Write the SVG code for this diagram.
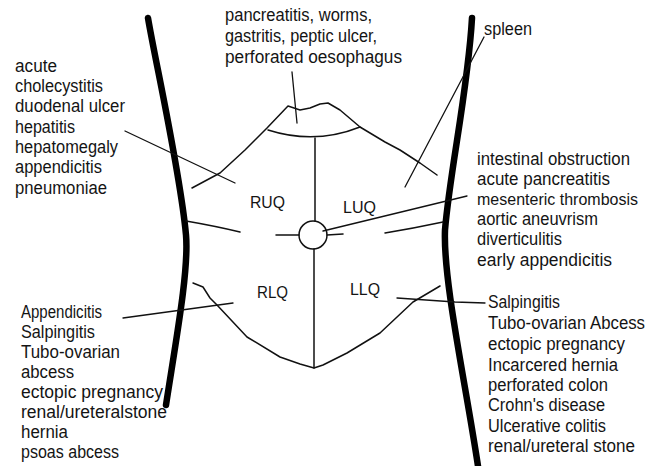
<svg xmlns="http://www.w3.org/2000/svg" width="651" height="466" viewBox="0 0 651 466">
  <style>
    .body { fill: none; stroke: #000; stroke-width: 6.5; stroke-linecap: round; stroke-linejoin: round; }
    .thin { fill: none; stroke: #111; stroke-width: 1.5; stroke-linecap: round; stroke-linejoin: round; }
    .conn { fill: none; stroke: #111; stroke-width: 1.3; stroke-linecap: round; }
    text { font-family: "Liberation Sans", Arial, sans-serif; font-size: 17.5px; fill: #141414; }
    .quad { font-size: 17px; }
    .tight { font-size: 16.5px; }
  </style>
  <rect width="651" height="466" fill="#fff"/>

  <!-- flanks of the torso -->
  <g id="torso-outline">
    <path class="body" d="M148,18 C155,60 180,170 186,235 C189,270 176,340 166,405"/>
    <path class="body" d="M472,18 C468,90 450,170 445,230 C443,280 465,380 478,466"/>
  </g>

  <!-- costal margin, xiphoid, midline, umbilicus and inguinal line -->
  <g id="abdomen">
    <path class="thin" d="M192,188 L220,173 L245,150 L267,128 L288,106 L300,110 L310,108 L320,104 L328,103 L340,110 L360,127 L385,142 L400,150 L420,163 L437,175"/>
    <path class="thin" d="M268,130 Q315,145 360,127"/>
    <path class="thin" d="M315,138 L315,221"/>
    <circle class="thin" cx="313" cy="235" r="14"/>
    <path class="thin" d="M314,249 L314,368"/>
    <path class="thin" d="M276,235 L299,235"/>
    <path class="thin" d="M327,235 L343,234"/>
    <path class="thin" d="M186,221 Q215,226 240,232"/>
    <path class="thin" d="M385,233 Q415,228 443,222"/>
    <path class="thin" d="M193,283 L203,287 L210,298 L217,305 L247,337 L280,357 L300,364 L314,368 L323,365 L347,353 L380,333 L413,302 L440,286"/>
  </g>

  <g id="quadrant-labels">
    <text class="quad" x="250" y="208" textLength="35" lengthAdjust="spacingAndGlyphs">RUQ</text>
    <text class="quad" x="343" y="213" textLength="33" lengthAdjust="spacingAndGlyphs">LUQ</text>
    <text class="quad" x="257" y="298" textLength="31" lengthAdjust="spacingAndGlyphs">RLQ</text>
    <text class="quad" x="350" y="295" textLength="30" lengthAdjust="spacingAndGlyphs">LLQ</text>
  </g>

  <!-- leader lines from each list to its region -->
  <g id="connectors">
    <line class="conn" x1="292" y1="72" x2="297" y2="123"/>
    <line class="conn" x1="125" y1="131" x2="235" y2="183"/>
    <line class="conn" x1="484" y1="37" x2="405" y2="187"/>
    <line class="conn" x1="323" y1="231" x2="467" y2="196"/>
    <line class="conn" x1="123" y1="318" x2="233" y2="303"/>
    <polyline class="conn" points="397,298 455,302 485,303"/>
  </g>

  <g id="epigastric-list">
    <text x="225" y="21" textLength="147" lengthAdjust="spacingAndGlyphs">pancreatitis, worms,</text>
    <text x="225" y="42" textLength="152" lengthAdjust="spacingAndGlyphs">gastritis, peptic ulcer,</text>
    <text x="225" y="63" textLength="177" lengthAdjust="spacingAndGlyphs">perforated oesophagus</text>
  </g>

  <g id="ruq-list">
    <text x="15" y="72" textLength="42" lengthAdjust="spacingAndGlyphs">acute</text>
    <text x="15" y="92" textLength="88" lengthAdjust="spacingAndGlyphs">cholecystitis</text>
    <text x="15" y="112" textLength="110" lengthAdjust="spacingAndGlyphs">duodenal ulcer</text>
    <text x="15" y="133" textLength="60" lengthAdjust="spacingAndGlyphs">hepatitis</text>
    <text x="15" y="153" textLength="103" lengthAdjust="spacingAndGlyphs">hepatomegaly</text>
    <text x="15" y="173" textLength="87" lengthAdjust="spacingAndGlyphs">appendicitis</text>
    <text x="15" y="194" textLength="92" lengthAdjust="spacingAndGlyphs">pneumoniae</text>
  </g>

  <g id="spleen-label">
    <text x="484" y="35" textLength="48" lengthAdjust="spacingAndGlyphs">spleen</text>
  </g>

  <g id="luq-list">
    <text x="477" y="165" textLength="153" lengthAdjust="spacingAndGlyphs">intestinal obstruction</text>
    <text x="477" y="185" textLength="133" lengthAdjust="spacingAndGlyphs">acute pancreatitis</text>
    <text class="tight" x="477" y="205" textLength="161" lengthAdjust="spacingAndGlyphs">mesenteric thrombosis</text>
    <text x="477" y="225" textLength="121" lengthAdjust="spacingAndGlyphs">aortic aneuvrism</text>
    <text x="477" y="245" textLength="85" lengthAdjust="spacingAndGlyphs">diverticulitis</text>
    <text x="477" y="266" textLength="135" lengthAdjust="spacingAndGlyphs">early appendicitis</text>
  </g>

  <g id="rlq-list">
    <text x="21" y="318" textLength="81" lengthAdjust="spacingAndGlyphs">Appendicitis</text>
    <text x="21" y="338" textLength="74" lengthAdjust="spacingAndGlyphs">Salpingitis</text>
    <text x="21" y="358" textLength="99" lengthAdjust="spacingAndGlyphs">Tubo-ovarian</text>
    <text x="21" y="378" textLength="53" lengthAdjust="spacingAndGlyphs">abcess</text>
    <text x="21" y="398" textLength="142" lengthAdjust="spacingAndGlyphs">ectopic pregnancy</text>
    <text x="21" y="418" textLength="146" lengthAdjust="spacingAndGlyphs">renal/ureteralstone</text>
    <text x="21" y="438" textLength="47" lengthAdjust="spacingAndGlyphs">hernia</text>
    <text x="21" y="458" textLength="98" lengthAdjust="spacingAndGlyphs">psoas abcess</text>
  </g>

  <g id="llq-list">
    <text x="488" y="308" textLength="72" lengthAdjust="spacingAndGlyphs">Salpingitis</text>
    <text x="488" y="329" textLength="157" lengthAdjust="spacingAndGlyphs">Tubo-ovarian Abcess</text>
    <text x="488" y="350" textLength="137" lengthAdjust="spacingAndGlyphs">ectopic pregnancy</text>
    <text x="488" y="371" textLength="130" lengthAdjust="spacingAndGlyphs">Incarcered hernia</text>
    <text x="488" y="391" textLength="120" lengthAdjust="spacingAndGlyphs">perforated colon</text>
    <text x="488" y="411" textLength="117" lengthAdjust="spacingAndGlyphs">Crohn's disease</text>
    <text x="488" y="432" textLength="118" lengthAdjust="spacingAndGlyphs">Ulcerative colitis</text>
    <text x="488" y="452" textLength="147" lengthAdjust="spacingAndGlyphs">renal/ureteral stone</text>
  </g>
</svg>
